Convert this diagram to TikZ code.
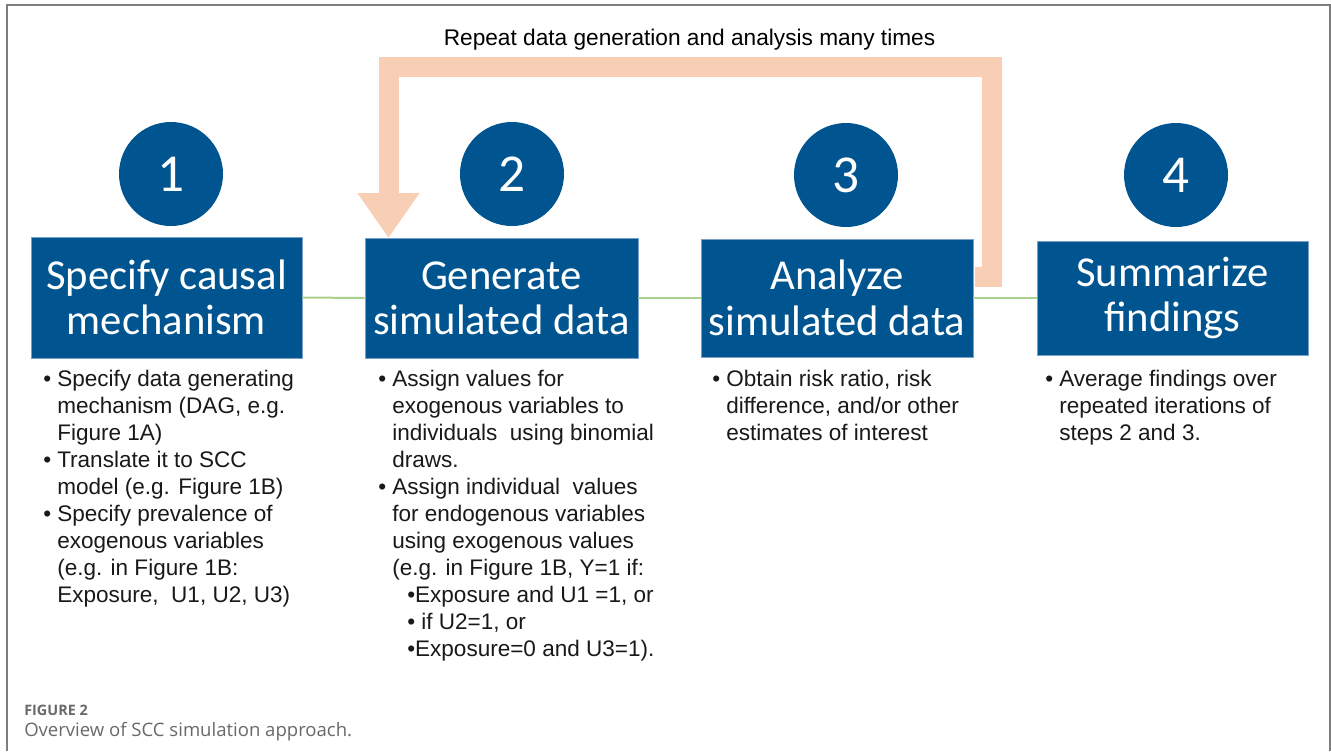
\documentclass[tikz,border=0pt]{standalone}
\usepackage{fontspec}
\setmainfont{Liberation Sans}
\newfontfamily\calfont{Carlito}
\newfontfamily\capfont{Open Sans}
\usetikzlibrary{arrows.meta}
\definecolor{sccblue}{RGB}{0,85,145}
\definecolor{sccedge}{RGB}{120,160,200}
\definecolor{sccorange}{RGB}{248,206,180}
\definecolor{sccgreen}{RGB}{169,209,142}
\definecolor{capgrey}{RGB}{105,105,105}
\definecolor{framegrey}{RGB}{125,125,125}
\newcommand{\bl}{\makebox[10.5pt][l]{•}}
\newcommand{\ind}{\hspace*{10.5pt}}
\newcommand{\subind}{\hspace*{21.75pt}}
\begin{document}
\begin{tikzpicture}[x=0.75pt,y=-0.75pt,
  stepbox/.style={fill=sccblue, draw=sccedge, line width=0.5pt, inner sep=0pt, text=white, align=center, font=\calfont\fontsize{32}{34}\selectfont},
  numcirc/.style={circle, fill=sccblue, inner sep=0pt, minimum size=78pt, text=white, font=\calfont\fontsize{40}{40}\selectfont},
  bultext/.style={anchor=north west, inner sep=0pt, align=left, text=black!90, font=\fontsize{16.9}{20.25}\selectfont},
  link/.style={draw=sccgreen, line width=1.5pt},
  loopline/.style={draw=sccorange, line width=15pt, line join=miter, -{Triangle[width=44.25pt,length=33.75pt]}},
  frameline/.style={draw=framegrey, line width=1.1pt},
  captitle/.style={anchor=west, inner sep=0pt, text=capgrey, font=\capfont\bfseries\fontsize{10.8}{12}\selectfont},
  captext/.style={anchor=west, inner sep=0pt, text=capgrey, font=\capfont\fontsize{13.9}{16}\selectfont}
]
\useasboundingbox (0,0) rectangle (1331,751);
\fill[white] (0,0) rectangle (1331,751);
% frame
\draw[frameline] (7,751) -- (7,5) -- (1330,5) -- (1330,751);

% header
\node[font=\fontsize{17}{19}\selectfont, inner sep=0pt] (hdr) at (689.5,40) {Repeat data generation and analysis many times};

% loop arrow
\coordinate (lp0) at (975,277);
\coordinate (lp1) at (991.5,67);
\coordinate (lp2) at (388.5,67);
\coordinate (lp3) at (388.5,238);
\draw[loopline] (lp0) -- (lp0 -| lp1) -- (lp1) -- (lp2) -- (lp3);

% boxes
\node[stepbox, minimum width=203.25pt, minimum height=90.75pt] (b1) at (166.5,297.5) {Specify causal\\mechanism};
\node[stepbox, minimum width=204.75pt, minimum height=90pt] (b2) at (501.5,298) {Generate\\simulated data};
\node[stepbox, minimum width=204pt, minimum height=88.5pt] (b3) at (837,298) {Analyze\\simulated data};
\node[stepbox, minimum width=203.25pt, minimum height=85.5pt] (b4) at (1172.5,298) {Summarize\\findings};

\draw[link] (b1.east) -- (b2.west);
\draw[link] (b2.east) -- (b3.west);
\draw[link] (b3.east) -- (b4.west);

% circles
\node[numcirc] (c1) at (171,174) {1};
\node[numcirc] (c2) at (512,174) {2};
\node[numcirc] (c3) at (846,175) {3};
\node[numcirc] (c4) at (1176,175) {4};

% bullet texts
\node[bultext] (t1) at (43,370) {\bl Specify data generating\\
\ind mechanism (DAG, e.g.\\
\ind Figure 1A)\\
\bl Translate it to SCC\\
\ind model (e.g. Figure 1B)\\
\bl Specify prevalence of\\
\ind exogenous variables\\
\ind (e.g. in Figure 1B:\\
\ind Exposure,\ \ U1, U2, U3)};

\node[bultext] (t2) at (378,370) {\bl Assign values for\\
\ind exogenous variables to\\
\ind individuals\ \ using binomial\\
\ind draws.\\
\bl Assign individual\ \ values\\
\ind for endogenous variables\\
\ind using exogenous values\\
\ind (e.g. in Figure 1B, Y=1 if:\\
\subind •Exposure and U1 =1, or\\
\subind • if U2=1, or\\
\subind •Exposure=0 and U3=1).};

\node[bultext] (t3) at (712,370) {\bl Obtain risk ratio, risk\\
\ind difference, and/or other\\
\ind estimates of interest};

\node[bultext] (t4) at (1045,370) {\bl Average findings over\\
\ind repeated iterations of\\
\ind steps 2 and 3.};

% caption
\node[captitle] (cap1) at (24,710) {FIGURE 2};
\node[captext] (cap2) at (24,732) {Overview of SCC simulation approach.};
\end{tikzpicture}
\end{document}
